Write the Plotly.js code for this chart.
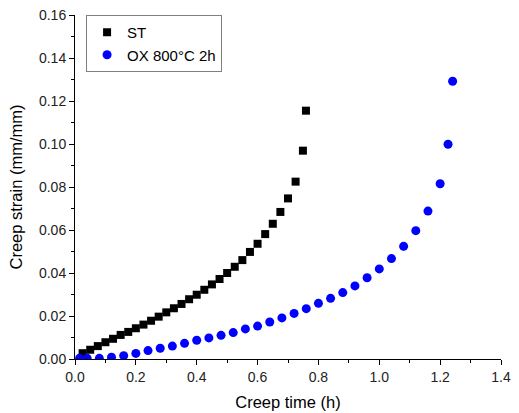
<!DOCTYPE html>
<html><head><meta charset="utf-8">
<script src="https://cdn.plot.ly/plotly-3.0.1.min.js"></script>
<style>html,body{margin:0;padding:0;background:#fff}#chart{width:519px;height:413px}</style>
</head><body><div id="chart"></div>
<script>
const stTime = [0.025,0.05,0.075,0.1,0.125,0.15,0.175,0.2,0.225,0.25,0.275,0.3,0.325,0.35,0.375,0.4,0.425,0.45,0.475,0.5,0.525,0.55,0.575,0.6,0.625,0.65,0.675,0.7,0.725,0.749,0.759];
const stStrain = [0.0027,0.0043,0.006,0.0078,0.0094,0.0112,0.0126,0.0143,0.016,0.0178,0.0197,0.0217,0.0236,0.0256,0.0278,0.0299,0.0322,0.0347,0.0372,0.04,0.0429,0.046,0.0498,0.0536,0.0581,0.0629,0.0684,0.0747,0.0825,0.0969,0.1155];
const oxTime = [0.015,0.04,0.08,0.12,0.16,0.2,0.24,0.28,0.32,0.36,0.4,0.44,0.48,0.52,0.56,0.6,0.64,0.68,0.72,0.76,0.8,0.84,0.88,0.92,0.96,1.0,1.04,1.08,1.12,1.16,1.2,1.226,1.241];
const oxStrain = [0.0003,0.0003,0.0003,0.0008,0.0015,0.0026,0.0039,0.005,0.006,0.0073,0.0087,0.0098,0.011,0.0123,0.014,0.0153,0.0172,0.0191,0.0212,0.0234,0.0259,0.0282,0.0309,0.034,0.0378,0.0419,0.0467,0.0524,0.0597,0.0688,0.0815,0.0999,0.1292];
const xTicks = [0.0,0.2,0.4,0.6,0.8,1.0,1.2,1.4];
const yTicks = [0.00,0.02,0.04,0.06,0.08,0.10,0.12,0.14,0.16];

const traces = [
  {x: stTime, y: stStrain, name: 'ST', type: 'scatter', mode: 'markers',
   marker: {symbol: 'square', size: 8, color: '#000000'}},
  {x: oxTime, y: oxStrain, name: 'OX 800°C 2h', type: 'scatter', mode: 'markers',
   marker: {symbol: 'circle', size: 9, color: '#0000ff'}}
];
const font = {family: 'Liberation Sans, Arial, sans-serif', color: '#000'};
const layout = {
  width: 519, height: 413,
  margin: {l: 75, r: 18, t: 15, b: 54},
  paper_bgcolor: '#fff', plot_bgcolor: '#fff',
  font: font,
  showlegend: true,
  legend: {x: 0.026, y: 1, xanchor: 'left', yanchor: 'top',
    bordercolor: '#808080', borderwidth: 1, bgcolor: '#fff',
    font: {family: font.family, size: 15, color: '#000'}, tracegroupgap: 0},
  xaxis: {
    range: [0, 1.4], tickvals: xTicks, ticktext: xTicks.map(v => v.toFixed(1)),
    showgrid: false, zeroline: false, showline: true, linecolor: '#000', linewidth: 1,
    ticks: 'outside', ticklen: 5, tickcolor: '#000', tickfont: {size: 14, color: '#222'},
    minor: {ticks: 'outside', ticklen: 3, tickcolor: '#000', dtick: 0.1, showgrid: false},
    title: {text: 'Creep time (h)', font: {size: 16.5, color: '#000'}, standoff: 12}
  },
  yaxis: {
    range: [0, 0.16], tickvals: yTicks, ticktext: yTicks.map(v => v.toFixed(2)),
    showgrid: false, zeroline: false, showline: true, linecolor: '#000', linewidth: 1,
    ticks: 'outside', ticklen: 5, tickcolor: '#000', tickfont: {size: 14, color: '#222'},
    minor: {ticks: 'outside', ticklen: 3, tickcolor: '#000', dtick: 0.01, showgrid: false},
    title: {text: 'Creep strain (mm/mm)', font: {size: 16.5, color: '#000'}, standoff: 12}
  }
};
Plotly.newPlot('chart', traces, layout, {staticPlot: true});
</script></body></html>
